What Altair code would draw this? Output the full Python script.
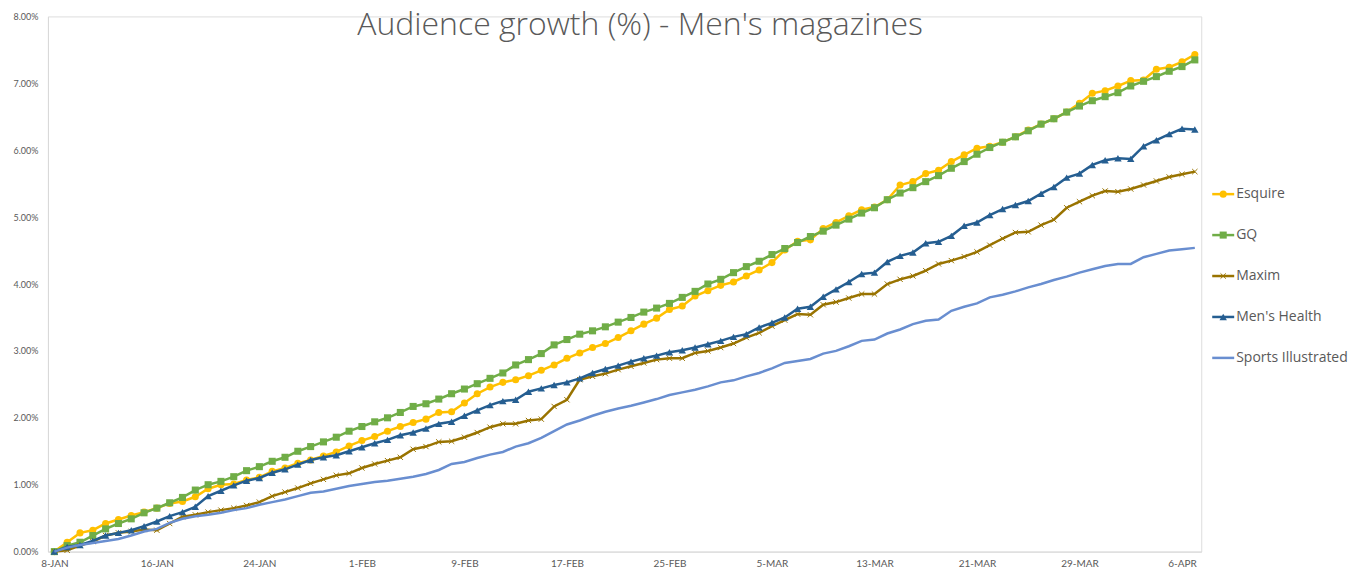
import altair as alt
import pandas as pd

dates = [d.strftime("%Y-%m-%d") for d in pd.date_range("2018-01-08", "2018-04-07", freq="D")]
tick_days = [0, 8, 16, 24, 32, 40, 48, 56, 64, 72, 80, 88]
tick_labels = ["8-JAN", "16-JAN", "24-JAN", "1-FEB", "9-FEB", "17-FEB", "25-FEB",
               "5-MAR", "13-MAR", "21-MAR", "29-MAR", "6-APR"]
series_names = ["Esquire", "GQ", "Maxim", "Men's Health", "Sports Illustrated"]
colors = ["#FFC000", "#70AD47", "#997300", "#255E91", "#698ED0"]

esquire = [0.00, 0.14, 0.28, 0.32, 0.42, 0.48, 0.54, 0.59, 0.65, 0.72,
           0.75, 0.82, 0.94, 1.00, 1.01, 1.07, 1.11, 1.20, 1.25, 1.32,
           1.37, 1.43, 1.49, 1.58, 1.66, 1.72, 1.80, 1.87, 1.93, 1.98,
           2.08, 2.09, 2.22, 2.36, 2.46, 2.53, 2.57, 2.63, 2.71, 2.79,
           2.89, 2.97, 3.05, 3.11, 3.20, 3.30, 3.40, 3.49, 3.62, 3.67,
           3.82, 3.90, 3.98, 4.03, 4.12, 4.21, 4.32, 4.51, 4.64, 4.66,
           4.83, 4.92, 5.02, 5.11, 5.15, 5.26, 5.48, 5.53, 5.65, 5.70,
           5.83, 5.93, 6.03, 6.06, 6.12, 6.20, 6.30, 6.39, 6.47, 6.57,
           6.70, 6.85, 6.89, 6.96, 7.04, 7.05, 7.21, 7.24, 7.32, 7.43]
gq = [0.00, 0.09, 0.14, 0.24, 0.34, 0.42, 0.49, 0.58, 0.65, 0.73,
      0.81, 0.92, 1.00, 1.05, 1.12, 1.21, 1.27, 1.35, 1.41, 1.50,
      1.57, 1.64, 1.71, 1.80, 1.87, 1.94, 2.00, 2.08, 2.17, 2.21,
      2.28, 2.36, 2.43, 2.51, 2.59, 2.67, 2.79, 2.87, 2.96, 3.09,
      3.17, 3.25, 3.30, 3.36, 3.43, 3.50, 3.58, 3.64, 3.71, 3.80,
      3.89, 4.00, 4.07, 4.17, 4.26, 4.34, 4.44, 4.53, 4.62, 4.71,
      4.79, 4.88, 4.97, 5.06, 5.14, 5.26, 5.36, 5.44, 5.53, 5.62,
      5.73, 5.83, 5.94, 6.04, 6.12, 6.20, 6.29, 6.39, 6.47, 6.57,
      6.66, 6.74, 6.80, 6.86, 6.96, 7.03, 7.10, 7.18, 7.25, 7.35]
maxim = [0.00, 0.02, 0.09, 0.15, 0.24, 0.28, 0.30, 0.33, 0.32, 0.42,
         0.52, 0.55, 0.59, 0.62, 0.65, 0.69, 0.74, 0.83, 0.89, 0.95,
         1.02, 1.08, 1.14, 1.17, 1.25, 1.31, 1.36, 1.41, 1.53, 1.57,
         1.64, 1.65, 1.71, 1.78, 1.86, 1.91, 1.91, 1.96, 1.98, 2.17,
         2.27, 2.57, 2.62, 2.66, 2.72, 2.77, 2.82, 2.87, 2.89, 2.89,
         2.97, 3.00, 3.05, 3.11, 3.20, 3.27, 3.37, 3.46, 3.55, 3.54,
         3.69, 3.73, 3.79, 3.85, 3.85, 4.00, 4.07, 4.12, 4.20, 4.30,
         4.35, 4.41, 4.48, 4.58, 4.68, 4.77, 4.78, 4.88, 4.96, 5.14,
         5.23, 5.32, 5.39, 5.38, 5.42, 5.48, 5.54, 5.60, 5.64, 5.68]
mens_health = [0.00, 0.07, 0.10, 0.16, 0.24, 0.28, 0.32, 0.38, 0.45, 0.53,
               0.59, 0.67, 0.83, 0.91, 0.99, 1.06, 1.10, 1.18, 1.23, 1.30,
               1.37, 1.41, 1.44, 1.50, 1.56, 1.62, 1.67, 1.74, 1.78, 1.84,
               1.91, 1.94, 2.03, 2.11, 2.19, 2.25, 2.27, 2.39, 2.44, 2.49,
               2.53, 2.59, 2.67, 2.73, 2.78, 2.84, 2.89, 2.93, 2.98, 3.01,
               3.05, 3.10, 3.15, 3.21, 3.25, 3.35, 3.42, 3.50, 3.63, 3.66,
               3.81, 3.92, 4.03, 4.15, 4.17, 4.33, 4.42, 4.47, 4.61, 4.63,
               4.72, 4.87, 4.92, 5.03, 5.12, 5.18, 5.24, 5.35, 5.45, 5.59,
               5.65, 5.78, 5.85, 5.88, 5.87, 6.06, 6.15, 6.24, 6.32, 6.31]
sports_illustrated = [0.00, 0.06, 0.10, 0.13, 0.16, 0.19, 0.24, 0.30, 0.34, 0.43,
                      0.49, 0.53, 0.55, 0.58, 0.62, 0.65, 0.70, 0.74, 0.78, 0.83,
                      0.88, 0.90, 0.94, 0.98, 1.01, 1.04, 1.06, 1.09, 1.12, 1.16,
                      1.22, 1.31, 1.34, 1.40, 1.45, 1.49, 1.57, 1.62, 1.70, 1.80,
                      1.90, 1.96, 2.03, 2.09, 2.14, 2.18, 2.23, 2.28, 2.34, 2.38,
                      2.42, 2.47, 2.53, 2.56, 2.62, 2.67, 2.74, 2.82, 2.85, 2.88,
                      2.96, 3.00, 3.07, 3.15, 3.17, 3.26, 3.32, 3.40, 3.45, 3.47,
                      3.60, 3.66, 3.71, 3.80, 3.84, 3.89, 3.95, 4.00, 4.06, 4.11,
                      4.17, 4.22, 4.27, 4.30, 4.30, 4.40, 4.45, 4.50, 4.52, 4.54]

title_text = "Audience growth (%) - Men's magazines"

all_values = [esquire, gq, maxim, mens_health, sports_illustrated]
rows = []
for name, vals in zip(series_names, all_values):
    for i, (d, v) in enumerate(zip(dates, vals)):
        rows.append({"series": name, "date": d, "day": i, "value": v})
df = pd.DataFrame(rows)
legend_df = pd.DataFrame({"series": series_names, "rank": list(range(len(series_names)))})

FONT = "Lato"
GREY = "#595959"
label_array = "[" + ",".join("'" + t + "'" for t in tick_labels) + "]"

X = alt.X("day:Q",
          scale=alt.Scale(domain=[-0.5, 89.5], nice=False, zero=False),
          axis=alt.Axis(values=tick_days, labelExpr=label_array + "[round(datum.value / 8)]",
                        title=None, grid=False, ticks=False, domainColor="#d9d9d9",
                        labelColor=GREY, labelFont=FONT, labelFontSize=10,
                        labelPadding=7, labelFlush=False))
Y = alt.Y("value:Q",
          scale=alt.Scale(domain=[0, 8], nice=False, zero=True),
          axis=alt.Axis(values=list(range(9)), labelExpr="format(datum.value, '.2f') + '%'",
                        title=None, grid=False, ticks=False, domainColor="#d9d9d9",
                        labelColor=GREY, labelFont=FONT, labelFontSize=9,
                        labelPadding=10, labelFlush=False))

color_scale = alt.Scale(domain=series_names, range=colors)
COLOR = alt.Color("series:N", scale=color_scale, legend=None)
base = alt.Chart(df)

X_PATH = "M-1,-1L1,1M-1,1L1,-1"
# marker per series: (shape, size, filled)
markers = {
    "Esquire": ("circle", 50, True),
    "GQ": ("square", 50, True),
    "Maxim": (X_PATH, 28, False),
    "Men's Health": ("triangle-up", 55, True),
    "Sports Illustrated": None,
}

layers = []
for name in series_names:
    sub = base.transform_filter(alt.FieldEqualPredicate(field="series", equal=name))
    layers.append(sub.mark_line(strokeWidth=2.5).encode(x=X, y=Y, color=COLOR))
    m = markers[name]
    if m:
        shape, size, filled = m
        kw = dict(shape=shape, size=size, filled=filled, opacity=1)
        if not filled:
            kw["strokeWidth"] = 1
        layers.append(sub.mark_point(**kw).encode(x=X, y=Y, color=COLOR))

main = alt.layer(*layers)

# legend (drawn with marks, positioned by its own scale)
LY = alt.Y("rank:Q", scale=alt.Scale(domain=[0, 4], range=[178, 342]), axis=None)
lbase = alt.Chart(legend_df)
leg_line = lbase.mark_rule(strokeWidth=2.5).encode(
    y=LY, x=alt.value(1166), x2=alt.value(1188), color=COLOR)
leg_layers = [leg_line]
for name in series_names:
    m = markers[name]
    if not m:
        continue
    shape, size, filled = m
    kw = dict(shape=shape, size=size, filled=filled, opacity=1)
    if not filled:
        kw["strokeWidth"] = 1
    leg_layers.append(
        lbase.transform_filter(alt.FieldEqualPredicate(field="series", equal=name))
        .mark_point(**kw).encode(y=LY, x=alt.value(1177), color=COLOR))
leg_text = lbase.mark_text(align="left", baseline="middle", font="Open Sans", fontSize=14,
                           color=GREY).encode(y=LY, x=alt.value(1190), text="series:N")
leg_layers.append(leg_text)

title_layer = alt.Chart(pd.DataFrame({"t": [title_text]})).mark_text(
    align="center", baseline="alphabetic", font="Open Sans", fontSize=32, fontWeight=300,
    color=GREY).encode(text="t:N", x=alt.value(593), y=alt.value(19))

legend_group = alt.layer(*leg_layers, title_layer)

chart = alt.layer(main, legend_group).resolve_scale(
    x="independent", y="independent"
).properties(
    width=1155, height=536,
    autosize=alt.AutoSizeParams(type="none"),
    padding={"left": 40, "top": 8, "right": 160, "bottom": 20},
).configure_view(strokeWidth=0).configure(background="white")

chart.save("out.html", embed_options={"renderer": "svg", "actions": False})
